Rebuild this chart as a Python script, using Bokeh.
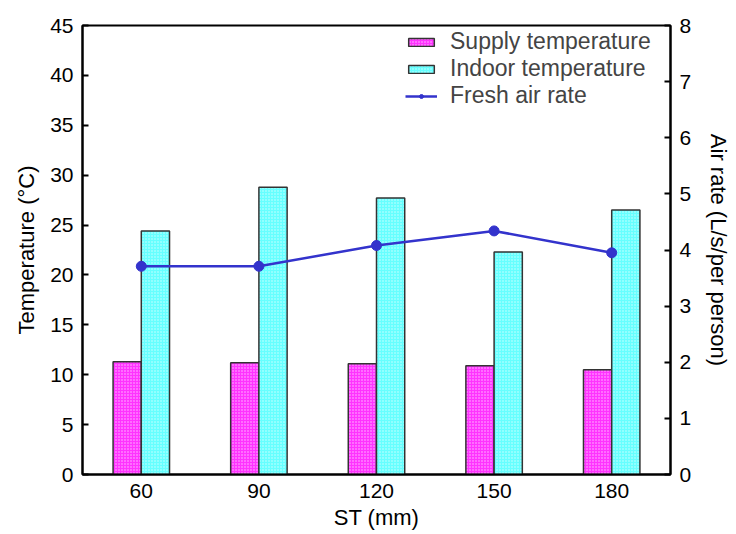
from bokeh.plotting import figure
from bokeh.models import Range1d, LinearAxis, FactorRange, ColumnDataSource
from bokeh.transform import dodge
from bokeh.embed import file_html
from bokeh.resources import INLINE

st = ["60", "90", "120", "150", "180"]
supply_temp = [11.3, 11.2, 11.1, 10.9, 10.5]
indoor_temp = [24.4, 28.8, 27.7, 22.3, 26.5]
air_rate = [3.71, 3.71, 4.08, 4.34, 3.95]

src = ColumnDataSource(dict(st=st, supply=supply_temp, indoor=indoor_temp, air=air_rate))

FONT = "Liberation Sans"

p = figure(width=736, height=534, x_range=FactorRange(*st, range_padding=0),
           y_range=Range1d(0, 45), output_backend="svg", toolbar_location=None,
           min_border_left=82, min_border_right=66, min_border_top=25, min_border_bottom=60)
p.extra_y_ranges = {"air": Range1d(0, 8)}

p.vbar(x=dodge("st", -0.12, range=p.x_range), top="supply", width=0.24, source=src,
       fill_color="#ff33ff", line_color="#333333", line_width=1.5,
       hatch_pattern="dot", hatch_color="white", hatch_scale=3, hatch_alpha=0.7,
       legend_label="Supply temperature")
p.vbar(x=dodge("st", 0.12, range=p.x_range), top="indoor", width=0.24, source=src,
       fill_color="#66ffff", line_color="#333333", line_width=1.5,
       hatch_pattern="dot", hatch_color="white", hatch_scale=3, hatch_alpha=0.7,
       legend_label="Indoor temperature")
p.line(x="st", y="air", source=src, y_range_name="air", line_color="#3333cc",
       line_width=2.5, legend_label="Fresh air rate")
p.scatter(x="st", y="air", source=src, y_range_name="air", size=10,
          fill_color="#3333cc", line_color="#3333cc", legend_label="Fresh air rate")

right = LinearAxis(y_range_name="air", axis_label="Air rate (L/s/per person)")
p.add_layout(right, "right")

for ax in [p.yaxis[0], right]:
    ax.major_tick_in = 6
    ax.major_tick_out = 0
    ax.minor_tick_in = 0
    ax.minor_tick_out = 0
    ax.ticker.desired_num_ticks = 9
p.yaxis[0].axis_label = "Temperature (°C)"
p.yaxis[0].ticker.desired_num_ticks = 10
p.xaxis.axis_label = "ST (mm)"
p.xaxis.major_tick_in = 0
p.xaxis.major_tick_out = 0

for ax in p.axis:
    ax.axis_line_width = 2
    ax.axis_line_color = "black"
    ax.major_tick_line_width = 2
    ax.major_label_text_font = FONT
    ax.major_label_text_font_size = "21px"
    ax.major_label_text_color = "black"
    ax.axis_label_text_font = FONT
    ax.axis_label_text_font_size = "22px"
    ax.axis_label_text_font_style = "normal"
    ax.axis_label_text_color = "black"
    ax.major_label_standoff = 9
    ax.axis_label_standoff = 8
p.xaxis.group_text_font_size = "0px"
p.xaxis.axis_label_standoff = 4
right.axis_label_standoff = 12

p.grid.visible = False
p.outline_line_color = "black"
p.outline_line_width = 2
p.x_range.range_padding = 0

p.legend.location = (323, 365)
p.legend.border_line_alpha = 0
p.legend.background_fill_alpha = 0
p.legend.label_text_font = FONT
p.legend.label_text_font_size = "23px"
p.legend.label_height = 22
p.legend.glyph_height = 10
p.legend.glyph_width = 32
p.legend.spacing = 0
p.legend.padding = 0
p.legend.margin = 0
p.legend.label_standoff = 13

open("out.html", "w").write(file_html(p, INLINE))
